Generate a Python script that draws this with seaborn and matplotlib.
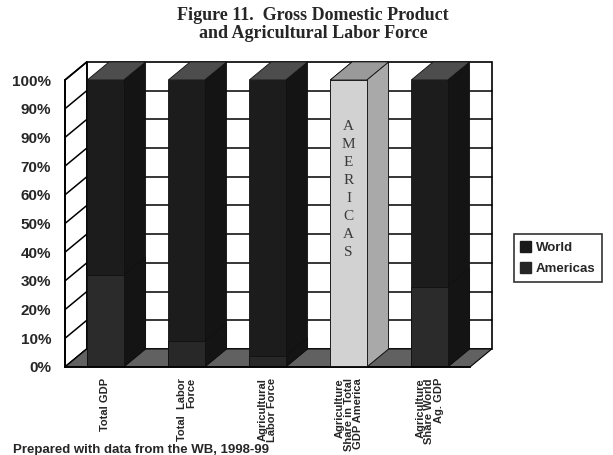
import matplotlib
matplotlib.use("Agg")
import matplotlib.pyplot as plt
from matplotlib.patches import Polygon, Patch
import seaborn as sns
import pandas as pd
import numpy as np

categories = ["Total GDP", "Total  Labor\nForce", "Agricultural\nLabor Force",
              "Agriculture\nShare in Total\nGDP America", "Agriculture\nShare World\nAg. GDP"]
americas = [32, 9, 4, 100, 28]
world = [68, 91, 96, 0, 72]
ytick_values = [0, 10, 20, 30, 40, 50, 60, 70, 80, 90, 100]
ytick_labels = ["0%", "10%", "20%", "30%", "40%", "50%", "60%", "70%", "90%", "90%", "100%"]

sns.set_style("white")
plt.rcParams["font.family"] = ["Liberation Sans", "DejaVu Sans"]

df = pd.DataFrame({"cat": categories, "americas": americas, "world": world})
df["total"] = df["americas"] + df["world"]

fig = plt.figure(figsize=(6.13, 4.55), dpi=100)
ax = fig.add_axes([65 / 613, (455 - 367) / 455, 405 / 613, 287 / 455])

world_col = "#1c1c1c"
amer_cols = ["#2b2b2b", "#282828", "#282828", "#d2d2d2", "#2b2b2b"]

sns.barplot(data=df, x="cat", y="total", color=world_col, width=0.45,
            ax=ax, zorder=3, edgecolor="#111111", linewidth=0.6)
sns.barplot(data=df, x="cat", y="americas", hue="cat", palette=amer_cols,
            legend=False, width=0.45, ax=ax, zorder=3, edgecolor="#111111",
            linewidth=0.6)

ax.set_xlim(-0.5, 4.5)
ax.set_ylim(0, 100)
dx, dy = 0.27, 6.3

# back wall
ax.add_patch(Polygon([(-0.5 + dx, dy), (4.5 + dx, dy), (4.5 + dx, 100 + dy), (-0.5 + dx, 100 + dy)],
                     closed=True, facecolor="white", edgecolor="black", lw=1.2, zorder=0.5, clip_on=False))
for v in ytick_values[1:-1]:
    ax.plot([-0.5 + dx, 4.5 + dx], [v + dy, v + dy], color="black", lw=1.1, zorder=0.6, clip_on=False)
# left wall
ax.add_patch(Polygon([(-0.5, 0), (-0.5 + dx, dy), (-0.5 + dx, 100 + dy), (-0.5, 100)],
                     closed=True, facecolor="white", edgecolor="black", lw=1.2, zorder=0.7, clip_on=False))
for v in ytick_values:
    ax.plot([-0.5, -0.5 + dx], [v, v + dy], color="black", lw=1.1, zorder=0.8, clip_on=False)
# floor
ax.add_patch(Polygon([(-0.5, 0), (4.5, 0), (4.5 + dx, dy), (-0.5 + dx, dy)],
                     closed=True, facecolor="#616161", edgecolor="black", lw=0.8, zorder=1, clip_on=False))

patches = ax.patches
bars = [p for p in patches if p.get_zorder() == 3]
n = len(categories)
world_bars = bars[:n]
amer_bars = bars[n:2 * n]
for i in range(n):
    light = amer_cols[i] == "#d2d2d2"
    for p in (world_bars[i], amer_bars[i]):
        x0 = p.get_x(); w = p.get_width(); y0 = p.get_y(); h = p.get_height()
        if h <= 0:
            continue
        x1 = x0 + w; y1 = y0 + h
        side_col = "#a9a9a9" if (light and p is amer_bars[i]) else "#141414"
        ax.add_patch(Polygon([(x1, y0), (x1 + dx, y0 + dy), (x1 + dx, y1 + dy), (x1, y1)],
                             closed=True, facecolor=side_col, edgecolor="#111111", lw=0.6,
                             zorder=2.5, clip_on=False))
        if y1 >= 99.9:
            top_col = "#9a9a9a" if light else "#4d4d4d"
            ax.add_patch(Polygon([(x0, y1), (x0 + dx, y1 + dy), (x1 + dx, y1 + dy), (x1, y1)],
                                 closed=True, facecolor=top_col, edgecolor="#111111", lw=0.6,
                                 zorder=2.5, clip_on=False))

ax.text(3, 86, "A\nM\nE\nR\nI\nC\nA\nS", ha="center", va="top", fontsize=11,
        family=["Liberation Serif", "DejaVu Serif"], color="#3a3a3a", linespacing=1.5, zorder=5)

for s in ["top", "right"]:
    ax.spines[s].set_visible(False)
for s in ["left", "bottom"]:
    ax.spines[s].set_color("black")
    ax.spines[s].set_linewidth(1.3)
    ax.spines[s].set_zorder(4)

ax.set_yticks(ytick_values)
ax.set_yticklabels(ytick_labels, fontsize=11, fontweight="bold")
ax.tick_params(axis="y", direction="out", length=4, width=1, color="black", pad=6)
ax.set_xticks(range(n))
ax.set_xticklabels(categories, rotation=90, ha="center", va="top", fontsize=8,
                   fontweight="bold", multialignment="right", linespacing=0.9)
ax.tick_params(axis="x", length=0, pad=8)
ax.set_xticks(np.arange(-0.5, n, 1.0), minor=True)
ax.tick_params(axis="x", which="minor", direction="out", length=4, width=1, color="black")
ax.set_xlabel("")
ax.set_ylabel("")
ax.grid(False)

fig.text(313 / 613, 1 - 7 / 455, "Figure 11.  Gross Domestic Product\nand Agricultural Labor Force",
         ha="center", va="top", fontsize=13, fontweight="bold",
         family=["Liberation Serif", "DejaVu Serif"], linespacing=1.05)

handles = [Patch(facecolor="#1a1a1a", edgecolor="#1a1a1a", label="World"),
           Patch(facecolor="#262626", edgecolor="#262626", label="Americas")]
leg = fig.legend(handles=handles, loc="center", bbox_to_anchor=(558 / 613, 1 - 258 / 455),
                 frameon=True, fancybox=False, prop={"weight": "bold", "size": 9.5},
                 handlelength=0.8, handleheight=0.9, handletextpad=0.4, borderpad=0.5,
                 labelspacing=0.6)
leg.get_frame().set_edgecolor("black")
leg.get_frame().set_linewidth(1.2)

fig.text(13 / 613, 1 - 444 / 455, "Prepared with data from the WB, 1998-99",
         ha="left", va="top", fontsize=9.5, fontweight="bold")

fig.savefig("out.png", dpi=100)
